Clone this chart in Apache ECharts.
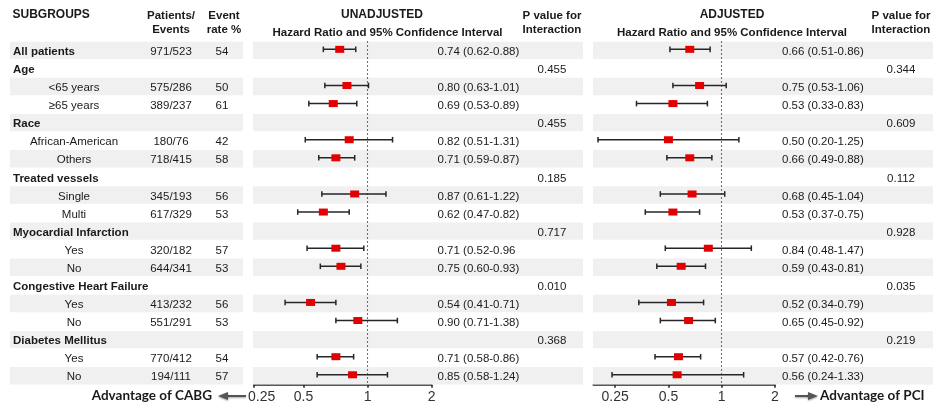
<!DOCTYPE html>
<html><head><meta charset="utf-8">
<script src="https://cdn.jsdelivr.net/npm/echarts@6/dist/echarts.min.js"></script>
<style>html,body{margin:0;padding:0;background:#fff}#c{width:935px;height:409px}</style>
</head><body><div id="c"></div>
<script>
// ---------- data ----------
const subgroups = ['All patients','Age','<65 years','≥65 years','Race','African-American','Others','Treated vessels','Single','Multi','Myocardial Infarction','Yes','No','Congestive Heart Failure','Yes','No','Diabetes Mellitus','Yes','No'];
const isHeader = [1,1,0,0,1,0,0,1,0,0,1,0,0,1,0,0,1,0,0];
const patientsEvents = ['971/523','','575/286','389/237','','180/76','718/415','','345/193','617/329','','320/182','644/341','','413/232','551/291','','770/412','194/111'];
const eventRate = [54,null,50,61,null,42,58,null,56,53,null,57,53,null,56,53,null,54,57];
const unadjHR = [0.74,null,0.80,0.69,null,0.82,0.71,null,0.87,0.62,null,0.71,0.75,null,0.54,0.90,null,0.71,0.85];
const unadjLo = [0.62,null,0.63,0.53,null,0.51,0.59,null,0.61,0.47,null,0.52,0.60,null,0.41,0.71,null,0.58,0.58];
const unadjHi = [0.88,null,1.01,0.89,null,1.31,0.87,null,1.22,0.82,null,0.96,0.93,null,0.71,1.38,null,0.86,1.24];
const unadjP = ['','0.455','','','0.455','','','0.185','','','0.717','','','0.010','','','0.368','',''];
const unadjNoCloseParen = [11]; // as printed in the source
const adjHR = [0.66,null,0.75,0.53,null,0.50,0.66,null,0.68,0.53,null,0.84,0.59,null,0.52,0.65,null,0.57,0.56];
const adjLo = [0.51,null,0.53,0.33,null,0.20,0.49,null,0.45,0.37,null,0.48,0.43,null,0.34,0.45,null,0.42,0.24];
const adjHi = [0.86,null,1.06,0.83,null,1.25,0.88,null,1.04,0.75,null,1.47,0.81,null,0.79,0.92,null,0.76,1.33];
const adjP = ['','0.344','','','0.609','','','0.112','','','0.928','','','0.035','','','0.219','',''];
const tickHR = [0.25,0.5,1,2];
const tickLabels = ['0.25','0.5','1','2'];

// ---------- layout ----------
const FONT = "'Liberation Sans', Arial, sans-serif";
const TXT = '#1a1a1a';
const SHADE = '#f0f0f0';
const TOP = 41.3, ROWH = 18.08, N = subgroups.length;
const H = ROWH * N;
const leftMin = -1.771, rightMin = -2.41;
const rows = subgroups.map((_, i) => String(i));

const grids = [
  {left:10, width:233},     // 0 table
  {left:253, width:330},    // 1 left band
  {left:254, width:177.7},  // 2 left forest
  {left:593, width:340},    // 3 right band
  {left:593.3, width:181.7} // 4 right forest
].map(g => Object.assign({top:TOP, height:H, containLabel:false}, g));

const fmt = v => v.toFixed(2);
const hrText = (hr, lo, hi, noClose) => hr.map((v, i) => v == null ? '' :
  fmt(v) + ' (' + fmt(lo[i]) + '-' + fmt(hi[i]) + (noClose.includes(i) ? '' : ')'));
const unadjText = hrText(unadjHR, unadjLo, unadjHi, unadjNoCloseParen);
const adjText = hrText(adjHR, adjLo, adjHi, []);

const xAxes = [], yAxes = [];
grids.forEach((g, k) => {
  yAxes.push({gridIndex:k, type:'category', data:rows, inverse:true, show:false});
});
xAxes.push({gridIndex:0, type:'value', min:0, max:233, show:false});
xAxes.push({gridIndex:1, type:'value', min:0, max:330, show:false});
function forestAxis(gi, min) {
  const ticks = tickHR.map(v => Math.max(Math.log2(v), min));
  const labs = tickHR.map(v => Math.max(Math.log2(v), min + 0.12));
  return {gridIndex:gi, type:'value', min:min, max:1, splitLine:{show:false},
    axisLine:{show:true, onZero:false, lineStyle:{color:'#222', width:1.6}},
    axisTick:{show:true, customValues:ticks, length:3, lineStyle:{color:'#222', width:1.5}},
    axisLabel:{show:true, customValues:labs, hideOverlap:false, showMinLabel:true, showMaxLabel:true,
      margin:5, fontSize:14, fontFamily:FONT, color:'#333',
      formatter: v => { const k = labs.findIndex(p => Math.abs(p - v) < 1e-6); return k >= 0 ? tickLabels[k] : ''; }}};
}
xAxes.push(forestAxis(2, leftMin));
xAxes.push({gridIndex:3, type:'value', min:0, max:340, show:false});
xAxes.push(forestAxis(4, rightMin));

function shadeSeries(gi, maxV) {
  return {type:'bar', xAxisIndex:gi, yAxisIndex:gi, silent:true, barWidth:17.4, z:1,
    itemStyle:{color:SHADE}, data: rows.map((_, i) => i % 2 === 0 ? maxV : '-')};
}
function textSeries(gi, xPos, texts, opts) {
  const list = [];
  texts.forEach((t, i) => { if (t !== '' && t != null) list.push({i, t: String(t)}); });
  return {type:'custom', xAxisIndex:gi, yAxisIndex:gi, silent:true, z:5,
    data: list.map(e => [xPos, e.i]),
    renderItem: (params, api) => {
      const e = list[params.dataIndex];
      const p = api.coord([api.value(0), api.value(1)]);
      return {type:'text', x:p[0], y:p[1] + 1.5, style:{text:e.t, fill:TXT,
        font:(opts.bold ? 'bold ' : '') + (opts.size || 11.5) + 'px ' + FONT,
        align:opts.align || 'left', verticalAlign:'middle'}};
    }};
}
function whiskerSeries(gi, hr, lo, hi) {
  const list = [];
  hr.forEach((v, i) => { if (v != null) list.push([Math.log2(lo[i]), Math.log2(hi[i]), i]); });
  return {type:'custom', xAxisIndex:gi, yAxisIndex:gi, silent:true, z:6,
    encode:{x:[0,1], y:2}, data:list,
    renderItem: (params, api) => {
      const a = api.coord([api.value(0), api.value(2)]);
      const b = api.coord([api.value(1), api.value(2)]);
      const y = a[1] - 1;
      const st = {stroke:'#262626', lineWidth:1.5};
      return {type:'group', children:[
        {type:'line', shape:{x1:a[0], y1:y, x2:b[0], y2:y}, style:st},
        {type:'line', shape:{x1:a[0], y1:y-2.8, x2:a[0], y2:y+2.8}, style:st},
        {type:'line', shape:{x1:b[0], y1:y-2.8, x2:b[0], y2:y+2.8}, style:st}
      ]};
    }};
}
function pointSeries(gi, hr) {
  const data = [];
  hr.forEach((v, i) => { if (v != null) data.push([Math.log2(v), i]); });
  return {type:'scatter', xAxisIndex:gi, yAxisIndex:gi, silent:true, z:7,
    symbol:'rect', symbolSize:[9,7], symbolOffset:[0,-1], itemStyle:{color:'#e30000', opacity:1},
    data:data,
    markLine:{silent:true, symbol:'none', label:{show:false}, z:3,
      lineStyle:{type:[1.5,2.5], color:'#444', width:1.1}, data:[{xAxis:0}]}};
}

const series = [
  shadeSeries(0, 233), shadeSeries(1, 330), shadeSeries(3, 340),
  textSeries(0, 3, subgroups.map((s, i) => isHeader[i] ? s : ''), {bold:true}),
  textSeries(0, 64, subgroups.map((s, i) => isHeader[i] ? '' : s), {align:'center'}),
  textSeries(0, 161, patientsEvents, {align:'center'}),
  textSeries(0, 212, eventRate.map(v => v == null ? '' : v), {align:'center'}),
  textSeries(1, 184.5, unadjText, {}),
  textSeries(1, 299, unadjP, {align:'center'}),
  textSeries(3, 189, adjText, {}),
  textSeries(3, 308, adjP, {align:'center'}),
  whiskerSeries(2, unadjHR, unadjLo, unadjHi), pointSeries(2, unadjHR),
  whiskerSeries(4, adjHR, adjLo, adjHi), pointSeries(4, adjHR)
];

function hText(x, y, t, align, size, family) {
  return {type:'text', x:x, y:y, silent:true, style:{text:t, fill:TXT,
    font:'bold ' + (size || 12) + 'px ' + (family || FONT), align:align || 'center', verticalAlign:'middle'}};
}
const graphic = [
  hText(12.5, 15, 'SUBGROUPS', 'left'),
  hText(171, 16, 'Patients/', 'center', 11.5), hText(171, 30, 'Events', 'center', 11.5),
  hText(224, 16, 'Event', 'center', 11.5), hText(224, 30, 'rate %', 'center', 11.5),
  hText(382, 15, 'UNADJUSTED'), hText(387.5, 32.5, 'Hazard Ratio and 95% Confidence Interval', 'center', 11.5),
  hText(552, 16, 'P value for', 'center', 11.5), hText(552, 30, 'Interaction', 'center', 11.5),
  hText(732, 15, 'ADJUSTED'), hText(732, 32.5, 'Hazard Ratio and 95% Confidence Interval', 'center', 11.5),
  hText(901, 16, 'P value for', 'center', 11.5), hText(901, 30, 'Interaction', 'center', 11.5),
  hText(212, 396, 'Advantage of CABG', 'right', 13.5, "Lato, 'Open Sans', sans-serif"),
  hText(820, 396, 'Advantage of PCI', 'left', 13.5, "Lato, 'Open Sans', sans-serif"),
  // arrows
  {type:'line', silent:true, shape:{x1:226, y1:396, x2:246, y2:396},
    style:{stroke:'#555', lineWidth:2, shadowBlur:2, shadowColor:'rgba(0,0,0,0.35)', shadowOffsetY:1}},
  {type:'polygon', silent:true, shape:{points:[[218,396],[228,392],[228,400]]},
    style:{fill:'#555', shadowBlur:2, shadowColor:'rgba(0,0,0,0.35)', shadowOffsetY:1}},
  {type:'line', silent:true, shape:{x1:795, y1:396, x2:810, y2:396},
    style:{stroke:'#555', lineWidth:2, shadowBlur:2, shadowColor:'rgba(0,0,0,0.35)', shadowOffsetY:1}},
  {type:'polygon', silent:true, shape:{points:[[818,396],[808,392],[808,400]]},
    style:{fill:'#555', shadowBlur:2, shadowColor:'rgba(0,0,0,0.35)', shadowOffsetY:1}}
];

const chart = echarts.init(document.getElementById('c'), null, {renderer:'canvas'});
chart.setOption({animation:false, backgroundColor:'#fff', grid:grids, xAxis:xAxes, yAxis:yAxes, series:series, graphic:graphic});
</script></body></html>
